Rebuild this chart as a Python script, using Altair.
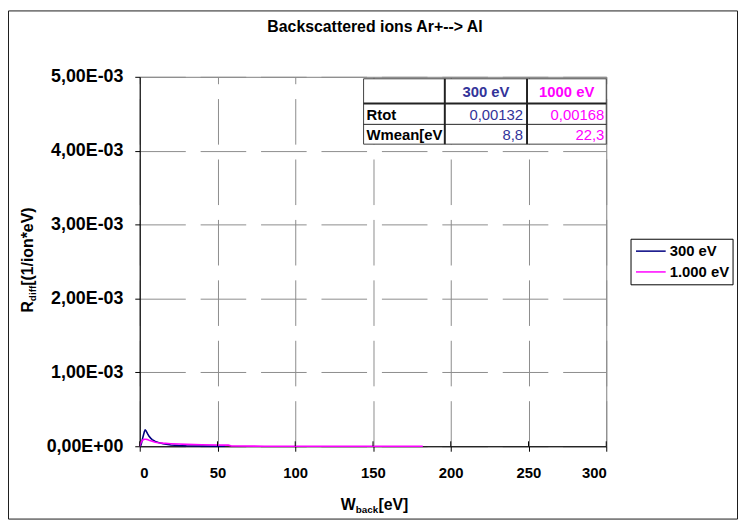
import altair as alt
import pandas as pd

# ---------------- data ----------------
SERIES = ["300 eV", "1.000 eV"]
COLORS = ["#000080", "#FF00FF"]

W_300 = [0.5, 1, 2, 3, 3.5, 4, 5, 6, 7, 8, 10, 12, 15, 20, 25, 30, 40, 50, 55]
R_300 = [0, 0.3e-4, 1.2e-4, 2.0e-4, 2.2e-4, 2.1e-4, 1.7e-4, 1.35e-4, 1.1e-4, 0.9e-4,
         0.65e-4, 0.5e-4, 0.33e-4, 0.18e-4, 0.1e-4, 0.06e-4, 0.03e-4, 0.01e-4, 0]

W_1000 = [0, 1, 2, 3, 4, 5, 6, 8, 10, 12, 15, 20, 25, 30, 40, 50, 57, 59, 80, 100, 150, 182]
R_1000 = [0, 0.6e-4, 0.85e-4, 0.95e-4, 0.95e-4, 0.9e-4, 0.82e-4, 0.68e-4, 0.55e-4, 0.48e-4,
          0.42e-4, 0.35e-4, 0.3e-4, 0.26e-4, 0.2e-4, 0.17e-4, 0.15e-4, 0.03e-4, 0.01e-4,
          0.005e-4, 0.002e-4, 0]

X_TICKS = [0, 50, 100, 150, 200, 250, 300]
Y_TICKS = [0, 0.001, 0.002, 0.003, 0.004, 0.005]
Y_TICK_LABELS = ["0,00E+00", "1,00E-03", "2,00E-03", "3,00E-03", "4,00E-03", "5,00E-03"]

TITLE = "Backscattered ions Ar+--> Al"
TABLE_HEAD = ["300 eV", "1000 eV"]
RTOT = ["0,00132", "0,00168"]
WMEAN = ["8,8", "22,3"]
ROW_LABELS = ["Rtot", "Wmean[eV"]

# ---------------- layout ----------------
FONT = "Liberation Sans"
W, H = 471, 373
PAD_L, PAD_T = 133, 67
TOTAL_W, TOTAL_H = 737, 514
NAVY_TXT = "#333399"
COLOR_SCALE = alt.Scale(domain=SERIES, range=COLORS)
X_SCALE = alt.Scale(domain=[0, 300], nice=False)

df = pd.concat([
    pd.DataFrame({"series": SERIES[0], "W": W_300, "R": R_300}),
    pd.DataFrame({"series": SERIES[1], "W": W_1000, "R": R_1000}),
])

lines = alt.Chart(df).mark_line(strokeWidth=1.6).encode(
    x=alt.X("W:Q", scale=X_SCALE,
            axis=alt.Axis(values=X_TICKS, title=None, format="d",
                          gridDash=[46, 15], gridDashOffset=39)),
    y=alt.Y("R:Q", scale=alt.Scale(domain=[0, 0.005], nice=False),
            axis=alt.Axis(values=Y_TICKS, title=None, labelFontSize=18,
                          labelExpr=str(Y_TICK_LABELS) + "[round(datum.value*1000)]",
                          gridDash=[46, 15])),
    color=alt.Color("series:N", scale=COLOR_SCALE, legend=None),
)

# crossing tick marks on the x axis (inner half)
xticks = alt.Chart(pd.DataFrame({"W": X_TICKS})).mark_rule(color="black", strokeWidth=1).encode(
    x=alt.X("W:Q", scale=X_SCALE), y=alt.value(H - 5), y2=alt.value(H))

# ---------------- legend (drawn) ----------------
LEG_BOX = (496, 599, 164, 210)
LEG_ROW0, LEG_ROW_STEP = 176, 21
leg_df = pd.DataFrame({"series": SERIES})
leg_df["ly"] = [LEG_ROW0 + i * LEG_ROW_STEP for i in range(len(SERIES))]
leg_box = alt.Chart(pd.DataFrame({"a": [0]})).mark_rect(
    fill="white", stroke="black", strokeWidth=1).encode(
    x=alt.value(LEG_BOX[0]), x2=alt.value(LEG_BOX[1]),
    y=alt.value(LEG_BOX[2]), y2=alt.value(LEG_BOX[3]))
leg_lines = alt.Chart(leg_df).mark_rule(strokeWidth=1.5).encode(
    x=alt.value(LEG_BOX[0] + 5), x2=alt.value(LEG_BOX[0] + 35),
    y=alt.Y("ly:Q", scale=None, axis=None),
    color=alt.Color("series:N", scale=COLOR_SCALE, legend=None))
leg_text = alt.Chart(leg_df).mark_text(
    align="left", baseline="middle", font=FONT, fontSize=15, fontWeight="bold",
    color="black").encode(
    x=alt.value(LEG_BOX[0] + 39), y=alt.Y("ly:Q", scale=None, axis=None), text="series:N")

# ---------------- table (annotation) ----------------
COL_EDGES = [226, 308, 391, 471]
ROW_EDGES = [2, 27, 48, 68]
tbl_text = pd.DataFrame({
    "t": [TABLE_HEAD[0], TABLE_HEAD[1], ROW_LABELS[0], RTOT[0], RTOT[1],
          ROW_LABELS[1], WMEAN[0], WMEAN[1]],
    "c": ["h0", "h1", "lab", "v0", "v1", "lab", "v0", "v1"],
    "row": [0, 0, 1, 1, 1, 2, 2, 2],
})
mid_y = [(ROW_EDGES[i] + ROW_EDGES[i + 1]) / 2 + 1 for i in range(3)]
tbl_text["py"] = [mid_y[r] for r in tbl_text["row"]]

def tbl_layer(kind, x, align, weight, color):
    d = tbl_text[tbl_text["c"] == kind]
    return alt.Chart(d).mark_text(align=align, baseline="middle", font=FONT,
                                  fontSize=15, fontWeight=weight, color=color).encode(
        x=alt.value(x), y=alt.Y("py:Q", scale=None, axis=None), text="t:N")

tbl_bg = alt.Chart(pd.DataFrame({"a": [0]})).mark_rect(
    fill="white", stroke="#404040", strokeWidth=1).encode(
    x=alt.value(COL_EDGES[0]), x2=alt.value(COL_EDGES[3]),
    y=alt.value(ROW_EDGES[0]), y2=alt.value(ROW_EDGES[3]))
vlines = [alt.Chart(pd.DataFrame({"a": [0]})).mark_rule(color="#222222", strokeWidth=2).encode(
    x=alt.value(cx), y=alt.value(ROW_EDGES[0]), y2=alt.value(ROW_EDGES[3])) for cx in COL_EDGES[1:3]]
hlines = [alt.Chart(pd.DataFrame({"a": [0]})).mark_rule(color="#222222", strokeWidth=sw).encode(
    y=alt.value(ry), x=alt.value(COL_EDGES[0]), x2=alt.value(COL_EDGES[3]))
    for ry, sw in [(ROW_EDGES[1], 2), (ROW_EDGES[2], 1)]]
tbl_layers = [
    tbl_layer("h0", (COL_EDGES[1] + COL_EDGES[2]) / 2, "center", "bold", NAVY_TXT),
    tbl_layer("h1", (COL_EDGES[2] + COL_EDGES[3]) / 2, "center", "bold", "#FF00FF"),
    tbl_layer("lab", COL_EDGES[0] + 3, "left", "bold", "black"),
    tbl_layer("v0", COL_EDGES[2] - 4, "right", "normal", NAVY_TXT),
    tbl_layer("v1", COL_EDGES[3] - 2, "right", "normal", "#FF00FF"),
]

# ---------------- titles (annotation) ----------------
one = pd.DataFrame({"a": [0]})

def txt(s, x, y, size, angle=0, align="left", weight="bold"):
    return alt.Chart(one).mark_text(text=s, font=FONT, fontSize=size, fontWeight=weight,
                                    align=align, baseline="alphabetic", angle=angle,
                                    color="black").encode(x=alt.value(x), y=alt.value(y))

titles = [
    txt(TITLE, W / 2 + 2, -45, 16, align="center"),
    # x title  W_back[eV]
    txt("W", 203, 437, 16),
    txt("back", 218, 440, 10),
    txt("[eV]", 241, 437, 16),
    # y title  R_diff[(1/ion*eV)
    txt("R", -108, 238, 16, angle=270),
    txt("diff", -105, 226.5, 10, angle=270),
    txt("[(1/ion*eV)", -108, 211, 16, angle=270),
]

frame = alt.Chart(one).mark_rect(fill=None, stroke="#1a1a1a", strokeWidth=1).encode(
    x=alt.value(-PAD_L + 0.5), x2=alt.value(TOTAL_W - PAD_L - 0.5),
    y=alt.value(-PAD_T + 0.5), y2=alt.value(TOTAL_H - PAD_T - 0.5))

chart = alt.layer(frame, lines, xticks, tbl_bg, *vlines, *hlines, *tbl_layers,
                  leg_box, leg_lines, leg_text, *titles).properties(
    width=W, height=H,
    autosize=alt.AutoSizeParams(type="none"),
    padding={"left": PAD_L, "top": PAD_T, "right": TOTAL_W - PAD_L - W,
             "bottom": TOTAL_H - PAD_T - H},
    background="white",
).configure_view(stroke="#808080", strokeWidth=1).configure_axis(
    labelFont=FONT, labelFontWeight="bold", labelColor="black", labelFontSize=15,
    domainColor="black", domainWidth=1, tickColor="black", tickSize=5, tickWidth=1,
    gridColor="#8c8c8c", gridWidth=1,
).configure_axisX(labelPadding=15).configure_axisY(labelPadding=12)

chart.save("out.html", embed_options={"renderer": "svg", "actions": False})
